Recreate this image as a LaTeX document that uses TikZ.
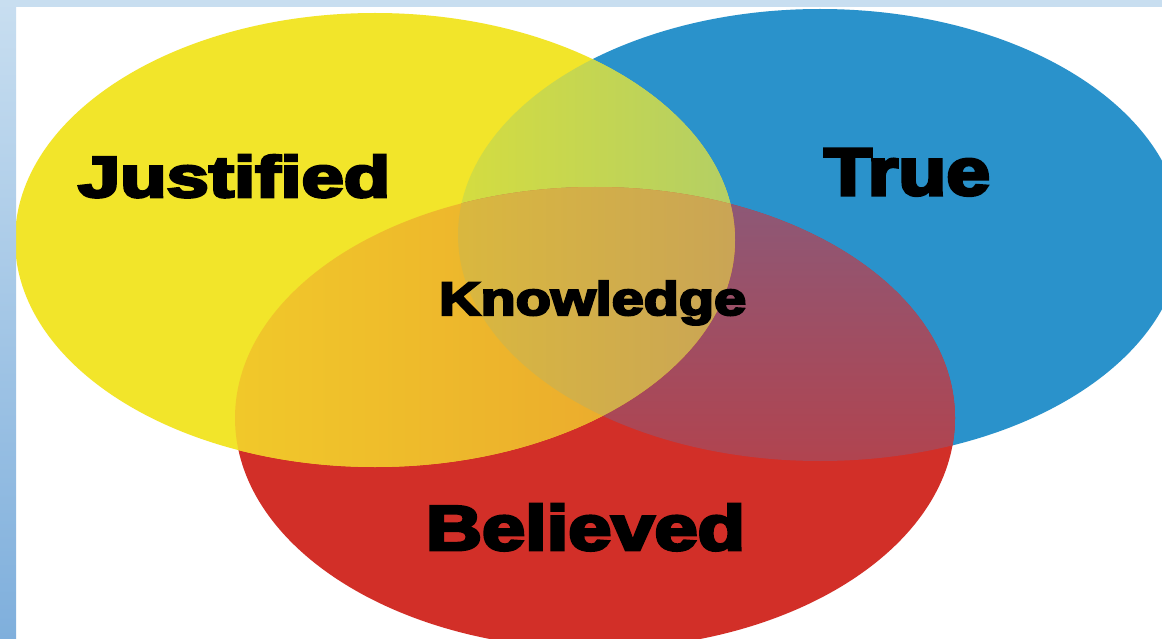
\documentclass[tikz,border=0pt]{standalone}
\usepackage{fontspec}
\usepackage{graphicx}
\newfontfamily\heavy{Liberation Sans}[UprightFont={* Bold},FakeBold=4.5]
\definecolor{yel}{HTML}{F2E52A}
\definecolor{blu}{HTML}{2A92CB}
\definecolor{rd}{HTML}{D22F28}
\definecolor{ybL}{HTML}{D6DD3E}
\definecolor{ybR}{HTML}{B2CE66}
\definecolor{rbT}{HTML}{8A5A7A}
\definecolor{rbB}{HTML}{B2434E}
\definecolor{yrL}{HTML}{F1C92A}
\definecolor{yrR}{HTML}{E9A22E}
\definecolor{ybrL}{HTML}{DAB83E}
\definecolor{ybrR}{HTML}{C9A456}
\definecolor{stripT}{HTML}{C8DEF0}
\definecolor{stripB}{HTML}{7FAFDC}
\tikzset{lbl/.style={inner sep=0pt, outer sep=0pt, text=black}}
\begin{document}
\begin{tikzpicture}[x=1pt,y=-1pt]
\useasboundingbox (0,0) rectangle (1162,639);
\fill[white] (0,0) rectangle (1162,639);
\def\Yset{(375,240) ellipse [x radius=360, y radius=227]}
\def\Bset{(820,235) ellipse [x radius=362, y radius=226]}
\def\Rset{(595,418) ellipse [x radius=360, y radius=231]}
\begin{scope}
  \clip (0,0) rectangle (1162,639);
  \fill[blu] \Bset;
  \fill[rd] \Rset;
  \fill[yel] \Yset;
  % Y and B
  \begin{scope}
    \clip \Bset; \clip \Yset;
    \shade[left color=ybL, right color=ybR] (445,0) rectangle (745,480);
  \end{scope}
  % R and B
  \begin{scope}
    \clip \Bset; \clip \Rset;
    \shade[top color=rbT, bottom color=rbB] (440,180) rectangle (965,470);
  \end{scope}
  % Y and R
  \begin{scope}
    \clip \Yset; \clip \Rset;
    \shade[left color=yrL, right color=yrR] (225,180) rectangle (745,475);
  \end{scope}
  % Y, R and B
  \begin{scope}
    \clip \Yset; \clip \Rset; \clip \Bset;
    \shade[left color=ybrL, right color=ybrR] (450,180) rectangle (745,475);
  \end{scope}
\end{scope}
% frame strips
\shade[top color=stripT, bottom color=stripB] (0,0) rectangle (16,639);
\fill[stripT] (0,0) rectangle (1162,7.5);
% labels
\node[lbl, anchor=base west] (just) at (78,197) {\resizebox{312pt}{42pt}{\heavy Justified}};
\node[lbl, anchor=base west] (true) at (824,195) {\resizebox{166pt}{46pt}{\heavy True}};
\node[lbl, anchor=base west] (know) at (439,315) {\resizebox{307pt}{34pt}{\heavy Knowledge}};
\node[lbl, anchor=base west] (beli) at (426,550) {\resizebox{319pt}{46pt}{\heavy Believed}};
\end{tikzpicture}
\end{document}
